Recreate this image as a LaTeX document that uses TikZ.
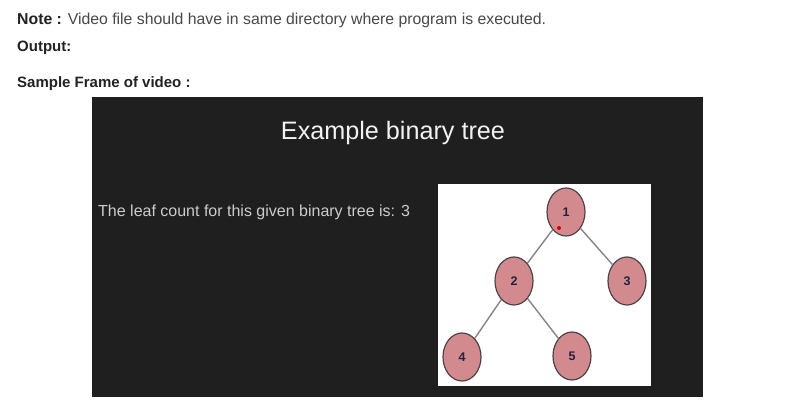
\documentclass[tikz,border=0pt]{standalone}
\usepackage{fontspec}
\setmainfont{Liberation Sans}
\usetikzlibrary{shapes.geometric}
\definecolor{frame}{HTML}{1F1F1F}
\definecolor{nodefill}{HTML}{D38A8E}
\definecolor{nodeline}{HTML}{4E4448}
\definecolor{edgecol}{HTML}{858585}
\definecolor{txt}{HTML}{484848}
\definecolor{boldtxt}{HTML}{222222}
\definecolor{numcol}{HTML}{232040}
\tikzset{
  treenode/.style={ellipse, draw=nodeline, line width=1.2pt, fill=nodefill, minimum width=38pt, minimum height=48pt, inner sep=0pt, font=\fontsize{12.5}{13}\selectfont\bfseries, text=numcol},
  treeedge/.style={draw=edgecol, line width=1.4pt},
  heading/.style={anchor=base west, inner sep=0pt, text=txt, font=\fontsize{15.8}{18}\selectfont},
  boldhead/.style={anchor=base west, inner sep=0pt, text=boldtxt, font=\fontsize{15}{18}\selectfont\bfseries}
}
\begin{document}
\begin{tikzpicture}[x=1pt,y=-1pt]
\useasboundingbox (0,0) rectangle (797,403);
\fill[white] (0,0) rectangle (797,403);
% header texts
\node[heading] (note) at (17,25) {\textcolor{boldtxt}{\bfseries Note :} Video file should have in same directory where program is executed.};
\node[boldhead] (out) at (17,52) {Output:};
\node[boldhead] (sample) at (17,88) {Sample Frame of video :};
% video frame
\fill[frame] (92,97) rectangle (703,397);
\node[anchor=base, inner sep=0pt, text=white!95!black, font=\fontsize{25.2}{28}\selectfont] (title) at (393,140) {Example binary tree};
\node[anchor=base west, inner sep=0pt, text=white!80!black, font=\fontsize{16}{18}\selectfont] (leaf) at (98,217) {The leaf count for this given binary tree is: 3};
% tree panel
\fill[white] (438,184) rectangle (651,386);
\node[treenode] (n1) at (566,212) {1};
\node[treenode] (n2) at (514,281) {2};
\node[treenode] (n3) at (627,281) {3};
\node[treenode] (n4) at (462,357) {4};
\node[treenode] (n5) at (572,356) {5};
\path[treeedge] (n1) -- (n2);
\path[treeedge] (n1) -- (n3);
\path[treeedge] (n2) -- (n4);
\path[treeedge] (n2) -- (n5);
\node[circle, fill=red!85!black, inner sep=0pt, minimum size=4pt] (dot) at (559,228) {};
\end{tikzpicture}
\end{document}
